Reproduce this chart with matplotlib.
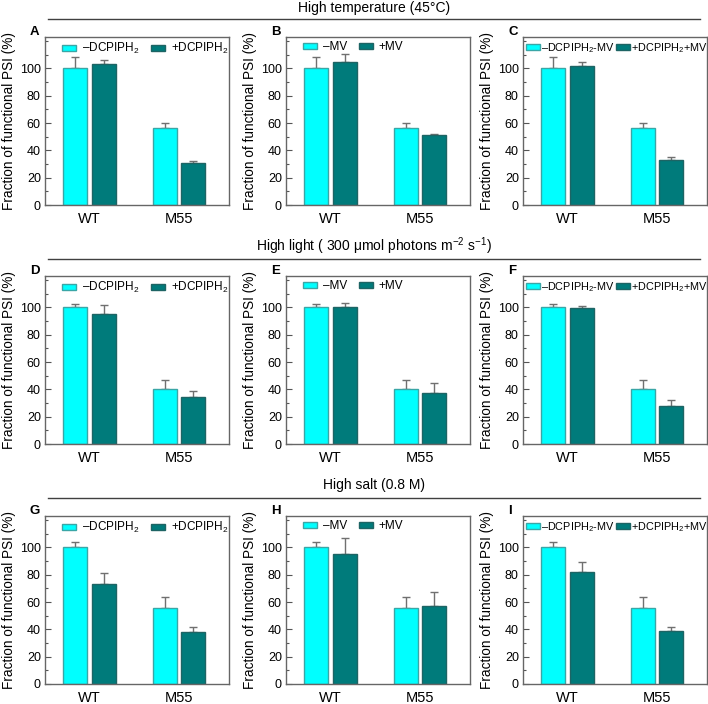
import matplotlib
matplotlib.use("Agg")
import matplotlib.pyplot as plt
from matplotlib.lines import Line2D
from matplotlib.ticker import MultipleLocator
import numpy as np

plt.rcParams['font.family'] = ['Liberation Sans', 'DejaVu Sans']
plt.rcParams['mathtext.fontset'] = 'custom'
plt.rcParams['mathtext.rm'] = 'Liberation Sans'
plt.rcParams['mathtext.it'] = 'Liberation Sans:italic'
plt.rcParams['mathtext.bf'] = 'Liberation Sans:bold'
plt.rcParams['mathtext.default'] = 'regular'

groups = ["WT", "M55"]
panel_labels = ["A", "B", "C", "D", "E", "F", "G", "H", "I"]
row_titles = ["High temperature (45°C)",
              "High light ( 300 μmol photons m$^{-2}$ s$^{-1}$)",
              "High salt (0.8 M)"]
legend_sets = [["–DCPIPH$_2$", "+DCPIPH$_2$"],
               ["–MV", "+MV"],
               ["–DCPIPH$_2$-MV", "+DCPIPH$_2$+MV"]]

# values per panel: [minus series], [plus series] for WT, M55
minus_vals = [[100, 56.5], [100, 56.5], [100, 56.5],
              [100, 40], [100, 40], [100, 40],
              [100, 55.5], [100, 55.5], [100, 55.5]]
minus_err = [[8, 3.5], [8, 3.5], [8, 3.5],
             [2.5, 6.5], [2.5, 6.5], [2.5, 6.5],
             [4, 8], [4, 8], [4, 8]]
plus_vals = [[103.5, 31], [104.5, 51], [101.5, 33],
             [95.5, 34.5], [100.5, 37], [99.5, 28],
             [73.5, 38], [95.5, 57], [82, 38.5]]
plus_err = [[2.5, 1.5], [6, 1], [3.5, 2.5],
            [6.5, 4], [2.5, 7.5], [1.5, 4],
            [7.5, 3.5], [11.5, 10], [7.5, 3.5]]

W, H = 708, 704
fig = plt.figure(figsize=(W / 100, H / 100), dpi=100)

col_left = [45, 286, 523]
row_top = [37, 276, 516]
ax_w, ax_h = 184, 168
line_y = [19, 259, 498]
title_y = [8, 246, 485]

cyan = "#00FFFF"
cyan_edge = "#3AA6A6"
teal = "#007B7B"
teal_edge = "#1E6464"
err_col = "#707070"

x = np.arange(len(groups))
bw = 0.267
off = 0.161

for r in range(3):
    fig.add_artist(Line2D([48 / W, 700 / W], [1 - line_y[r] / H] * 2,
                          color="#404040", lw=1.0))
    fig.text(374 / W, 1 - title_y[r] / H, row_titles[r], ha="center",
             va="center", fontsize=10)
    for c in range(3):
        i = r * 3 + c
        ax = fig.add_axes([col_left[c] / W, 1 - (row_top[r] + ax_h) / H,
                           ax_w / W, ax_h / H])
        mv, me = minus_vals[i], minus_err[i]
        pv, pe = plus_vals[i], plus_err[i]
        ax.bar(x - off, mv, bw, color=cyan, edgecolor=cyan_edge, lw=1.0,
               label=legend_sets[c][0], zorder=2)
        ax.bar(x + off, pv, bw, color=teal, edgecolor=teal_edge, lw=1.0,
               label=legend_sets[c][1], zorder=2)
        ax.errorbar(x - off, mv, yerr=[[0] * len(me), me], fmt="none",
                    ecolor=err_col, elinewidth=1.0, capsize=3, capthick=1.0,
                    zorder=1)
        ax.errorbar(x + off, pv, yerr=[[0] * len(pe), pe], fmt="none",
                    ecolor=err_col, elinewidth=1.0, capsize=3, capthick=1.0,
                    zorder=1)
        ax.set_xlim(-0.49, 1.556)
        ax.set_ylim(0, 123)
        ax.yaxis.set_major_locator(MultipleLocator(20))
        ax.yaxis.set_minor_locator(MultipleLocator(10))
        ax.set_yticks([0, 20, 40, 60, 80, 100])
        ax.tick_params(axis="y", which="major", direction="in", length=4,
                       width=0.8, labelsize=9, pad=3, color="#555555")
        ax.tick_params(axis="y", which="minor", direction="in", length=2.5,
                       width=0.8, color="#555555")
        ax.set_xticks(x)
        ax.set_xticklabels(groups, fontsize=10.5)
        ax.tick_params(axis="x", length=0, pad=5)
        for s in ax.spines.values():
            s.set_color("#666666")
            s.set_linewidth(1.0)
        ax.set_ylabel("Fraction of functional PSI (%)", fontsize=9.8,
                      labelpad=3)
        if c == 2:
            ax.legend(loc="upper left", ncol=2, frameon=False,
                      fontsize=7.8, handlelength=1.25, handleheight=0.4,
                      handletextpad=0.1, columnspacing=0.2,
                      borderaxespad=0, borderpad=0,
                      bbox_to_anchor=(3 / ax_w, 1 - 4 / ax_h))
        else:
            ax.legend(loc="upper left", ncol=2, frameon=False,
                      fontsize=8.5, handlelength=1.2, handleheight=0.4,
                      handletextpad=0.5, columnspacing=0.95,
                      borderaxespad=0, borderpad=0,
                      bbox_to_anchor=(17 / ax_w, 1 - 4 / ax_h))
        fig.text((col_left[c] - 15) / W, 1 - (row_top[r] - 5) / H,
                 panel_labels[i], ha="left", va="center", fontsize=9.5,
                 fontweight="bold")

fig.savefig("out.png", dpi=100)
